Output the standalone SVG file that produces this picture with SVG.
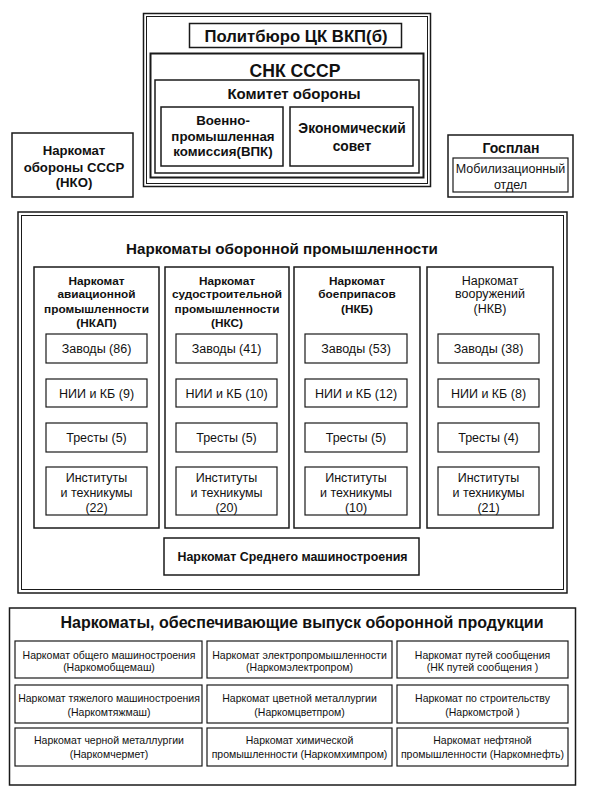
<svg xmlns="http://www.w3.org/2000/svg" width="590" height="796" viewBox="0 0 590 796">
<style>
rect{fill:none;stroke:#1a1a1a;stroke-width:1.5}
rect.s{stroke-width:1.2}
text{font-family:"Liberation Sans",Arial,sans-serif;fill:#111;text-anchor:middle}
.b{font-weight:bold}
.t13{font-size:13.3px}
.t14{font-size:13.2px}
.h{font-size:11.8px;font-weight:bold}
.t12{font-size:12.5px}
.t11{font-size:10.5px}
</style>
<rect x="0" y="0" width="590" height="796" style="fill:#fff;stroke:none"/>
<g id="top-frame">
<rect x="143.5" y="13.5" width="287" height="173"/>
<rect x="146.5" y="16.5" width="281" height="167" style="stroke-width:1"/>
</g>
<g id="politburo">
<rect x="189.5" y="23.5" width="212" height="24"/>
<text class="b" style="font-size:16.7px" x="296" y="41.5">Политбюро ЦК ВКП(б)</text>
</g>
<g id="snk">
<rect x="150.5" y="53.5" width="273" height="124" style="stroke-width:2"/>
<text class="b" style="font-size:17.6px" x="295" y="76.5">СНК СССР</text>
</g>
<g id="komitet">
<rect x="155" y="80" width="264" height="93"/>
<text class="b" style="font-size:15px" x="294" y="98.5">Комитет обороны</text>
</g>
<g id="vpk">
<rect x="161" y="107" width="122" height="59"/>
<text class="b t13" x="223" y="124.5">Военно-</text>
<text class="b t13" x="223" y="141">промышленная</text>
<text class="b t13" x="223" y="156">комиссия(ВПК)</text>
</g>
<g id="econ">
<rect x="290" y="107" width="123" height="59"/>
<text class="b" style="font-size:13.8px" x="352" y="133">Экономический</text>
<text class="b" style="font-size:13.8px" x="352" y="151">совет</text>
</g>
<g id="nko">
<rect x="12" y="133" width="121" height="64"/>
<text class="b t14" x="74" y="155">Наркомат</text>
<text class="b t14" x="74" y="171.5">обороны СССР</text>
<text class="b t14" x="74" y="186.5">(НКО)</text>
</g>
<g id="gosplan">
<rect x="448" y="135" width="125" height="62"/>
<text class="b" style="font-size:14px" x="511" y="153">Госплан</text>
<rect class="s" x="453" y="158" width="115" height="34"/>
<text style="font-size:12.5px" x="510.5" y="172.5">Мобилизационный</text>
<text style="font-size:12.5px" x="510.5" y="189">отдел</text>
</g>
<g id="oboronprom">
<rect x="18" y="212" width="549" height="381"/>
<rect x="21.5" y="215.5" width="542" height="374" style="stroke-width:1"/>
<text class="b" style="font-size:15.2px" x="282" y="254">Наркоматы оборонной промышленности</text>
</g>
<g id="nkap">
<rect x="34" y="267" width="125" height="261"/>
<text class="h" x="96.5" y="284.5">Наркомат</text>
<text class="h" x="96.5" y="298">авиационной</text>
<text class="h" x="96.5" y="312.5">промышленности</text>
<text class="h" x="96.5" y="326.5">(НКАП)</text>
<rect class="s" x="46" y="334" width="101" height="29"/>
<text class="t12" x="96.5" y="353">Заводы (86)</text>
<rect class="s" x="46" y="379" width="101" height="28"/>
<text class="t12" x="96.5" y="397.5">НИИ и КБ (9)</text>
<rect class="s" x="46" y="423" width="101" height="29"/>
<text class="t12" x="96.5" y="442">Тресты (5)</text>
<rect class="s" x="46" y="467" width="101" height="48"/>
<text class="t12" x="96.5" y="481.5">Институты</text>
<text class="t12" x="96.5" y="496.5">и техникумы</text>
<text class="t12" x="96.5" y="511.5">(22)</text>
</g>
<g id="nks">
<rect x="165" y="267" width="124" height="261"/>
<text class="h" x="227" y="284.5">Наркомат</text>
<text class="h" x="227" y="298">судостроительной</text>
<text class="h" x="227" y="312.5">промышленности</text>
<text class="h" x="227" y="326.5">(НКС)</text>
<rect class="s" x="176" y="334" width="101" height="29"/>
<text class="t12" x="226.5" y="353">Заводы (41)</text>
<rect class="s" x="176" y="379" width="101" height="28"/>
<text class="t12" x="226.5" y="397.5">НИИ и КБ (10)</text>
<rect class="s" x="176" y="423" width="101" height="29"/>
<text class="t12" x="226.5" y="442">Тресты (5)</text>
<rect class="s" x="176" y="467" width="101" height="48"/>
<text class="t12" x="226.5" y="481.5">Институты</text>
<text class="t12" x="226.5" y="496.5">и техникумы</text>
<text class="t12" x="226.5" y="511.5">(20)</text>
</g>
<g id="nkb">
<rect x="294" y="267" width="126" height="261"/>
<text class="h" x="357" y="284.5">Наркомат</text>
<text class="h" x="357" y="298">боеприпасов</text>
<text class="h" x="357" y="312.5">(НКБ)</text>
<rect class="s" x="305" y="334" width="102" height="29"/>
<text class="t12" x="356" y="353">Заводы (53)</text>
<rect class="s" x="305" y="379" width="102" height="28"/>
<text class="t12" x="356" y="397.5">НИИ и КБ (12)</text>
<rect class="s" x="305" y="423" width="102" height="29"/>
<text class="t12" x="356" y="442">Тресты (5)</text>
<rect class="s" x="305" y="467" width="102" height="48"/>
<text class="t12" x="356" y="481.5">Институты</text>
<text class="t12" x="356" y="496.5">и техникумы</text>
<text class="t12" x="356" y="511.5">(10)</text>
</g>
<g id="nkv">
<rect x="427" y="267" width="126" height="261"/>
<text class="t12" x="490" y="284.5">Наркомат</text>
<text class="t12" x="490" y="298">вооружений</text>
<text class="t12" x="490" y="312.5">(НКВ)</text>
<rect class="s" x="438" y="334" width="101" height="29"/>
<text class="t12" x="488.5" y="353">Заводы (38)</text>
<rect class="s" x="438" y="379" width="101" height="28"/>
<text class="t12" x="488.5" y="397.5">НИИ и КБ (8)</text>
<rect class="s" x="438" y="423" width="101" height="29"/>
<text class="t12" x="488.5" y="442">Тресты (4)</text>
<rect class="s" x="438" y="467" width="101" height="48"/>
<text class="t12" x="488.5" y="481.5">Институты</text>
<text class="t12" x="488.5" y="496.5">и техникумы</text>
<text class="t12" x="488.5" y="511.5">(21)</text>
</g>
<g id="sredmash">
<rect x="164" y="538" width="255" height="37"/>
<text class="b" style="font-size:12.4px" x="292.5" y="561">Наркомат Среднего машиностроения</text>
</g>
<g id="obespech">
<rect x="9.5" y="608" width="566" height="177"/>
<text class="b" style="font-size:16px" x="302" y="628">Наркоматы, обеспечивающие выпуск оборонной продукции</text>
</g>
<g id="row1">
<rect class="s" x="15" y="641" width="187" height="37"/>
<text class="t11" x="109" y="659">Наркомат общего машиностроения</text>
<text class="t11" x="109" y="671">(Наркомобщемаш)</text>
<rect class="s" x="207" y="641" width="185" height="37"/>
<text class="t11" x="299.5" y="659">Наркомат электропромышленности</text>
<text class="t11" x="299.5" y="671">(Наркомэлектропром)</text>
<rect class="s" x="397" y="641" width="171" height="37"/>
<text class="t11" x="482.5" y="659">Наркомат путей сообщения</text>
<text class="t11" x="482.5" y="671">(НК путей сообщения )</text>
</g>
<g id="row2">
<rect class="s" x="15" y="685" width="187" height="38"/>
<text class="t11" x="109" y="702">Наркомат тяжелого машиностроения</text>
<text class="t11" x="109" y="716">(Наркомтяжмаш)</text>
<rect class="s" x="207" y="685" width="185" height="38"/>
<text class="t11" x="299.5" y="702">Наркомат цветной металлургии</text>
<text class="t11" x="299.5" y="716">(Наркомцветпром)</text>
<rect class="s" x="397" y="685" width="171" height="38"/>
<text class="t11" x="482.5" y="702">Наркомат по строительству</text>
<text class="t11" x="482.5" y="716">(Наркомстрой )</text>
</g>
<g id="row3">
<rect class="s" x="15" y="728" width="187" height="38"/>
<text class="t11" x="109" y="744">Наркомат черной металлургии</text>
<text class="t11" x="109" y="758">(Наркомчермет)</text>
<rect class="s" x="207" y="728" width="185" height="38"/>
<text class="t11" x="299.5" y="744">Наркомат химической</text>
<text class="t11" x="299.5" y="758">промышленности (Наркомхимпром)</text>
<rect class="s" x="397" y="728" width="171" height="38"/>
<text class="t11" x="482.5" y="744">Наркомат нефтяной</text>
<text class="t11" x="482.5" y="758">промышленности (Наркомнефть)</text>
</g>
<g id="connectors"></g>
</svg>
